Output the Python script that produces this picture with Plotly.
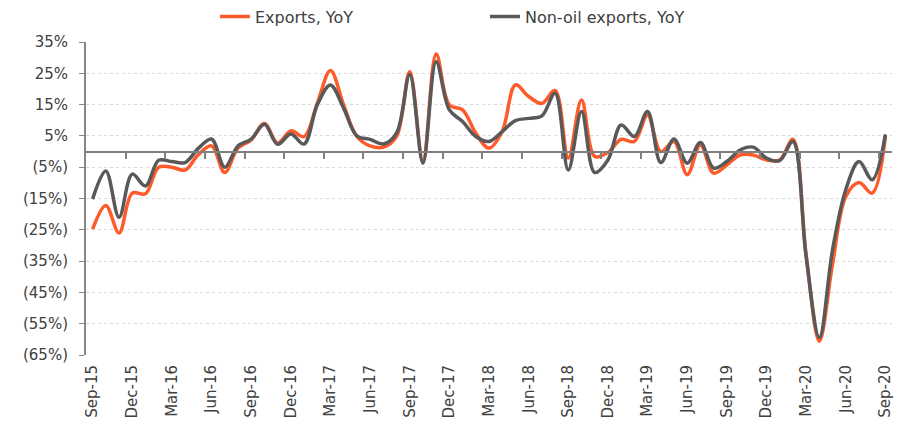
import plotly.graph_objects as go

months = ["Sep-15", "Oct-15", "Nov-15", "Dec-15", "Jan-16", "Feb-16", "Mar-16", "Apr-16", "May-16",
          "Jun-16", "Jul-16", "Aug-16", "Sep-16", "Oct-16", "Nov-16", "Dec-16", "Jan-17", "Feb-17",
          "Mar-17", "Apr-17", "May-17", "Jun-17", "Jul-17", "Aug-17", "Sep-17", "Oct-17", "Nov-17",
          "Dec-17", "Jan-18", "Feb-18", "Mar-18", "Apr-18", "May-18", "Jun-18", "Jul-18", "Aug-18",
          "Sep-18", "Oct-18", "Nov-18", "Dec-18", "Jan-19", "Feb-19", "Mar-19", "Apr-19", "May-19",
          "Jun-19", "Jul-19", "Aug-19", "Sep-19", "Oct-19", "Nov-19", "Dec-19", "Jan-20", "Feb-20",
          "Mar-20", "Apr-20", "May-20", "Jun-20", "Jul-20", "Aug-20", "Sep-20"]

exports_yoy = [-24.8, -17.2, -26.0, -13.3, -13.5, -5.0, -5.0, -5.9, -1.0, 1.8,
               -6.7, 1.1, 3.7, 9.0, 2.7, 6.6, 4.8, 15.4, 25.9, 14.9,
               4.8, 1.8, 1.4, 4.8, 25.5, -3.0, 31.2, 14.9, 13.3, 5.9,
               1.1, 6.4, 21.3, 17.6, 15.4, 19.5, -2.1, 16.5, -1.6, -0.3,
               3.9, 3.2, 11.7, 0.0, 3.2, -7.4, 2.1, -6.9, -4.3, -1.1,
               -1.1, -2.7, -2.7, 3.9, -33.0, -60.6, -36.0, -14.4, -9.9, -13.3,
               4.8]

non_oil_exports_yoy = [-15.2, -6.2, -21.0, -7.2, -11.0, -2.8, -3.2, -3.5, 1.0, 4.0,
                       -5.0, 1.8, 4.0, 8.7, 2.3, 5.6, 2.4, 14.9, 21.3, 13.8,
                       5.0, 3.9, 2.4, 5.9, 24.5, -3.7, 28.7, 13.3, 9.6, 4.8,
                       3.2, 6.4, 9.9, 10.6, 11.4, 18.6, -5.9, 12.8, -6.7, -2.7,
                       8.5, 4.8, 12.8, -3.5, 4.0, -3.7, 2.9, -5.3, -3.2, 0.5,
                       1.4, -2.1, -2.9, 3.2, -33.5, -59.4, -31.4, -12.2, -3.2, -9.0,
                       5.5]

y_tick_values = [35, 25, 15, 5, -5, -15, -25, -35, -45, -55, -65]
y_tick_labels = ["35%", "25%", "15%", "5%", "(5%)", "(15%)", "(25%)", "(35%)", "(45%)", "(55%)", "(65%)"]

x_idx = list(range(len(months)))
label_idx = x_idx[::3]
label_text = months[::3]
boundary_ticks = [i - 0.5 for i in x_idx[3::3]]

FONT = "DejaVu Sans"
TXT = "#404040"

fig = go.Figure()
# empty helper trace so the zero-crossing category axis (x) is rendered underneath the data
fig.add_trace(go.Scatter(x=[None], y=[None], xaxis="x", yaxis="y", showlegend=False,
                         hoverinfo="skip", mode="lines"))
fig.add_trace(go.Scatter(x=x_idx, y=exports_yoy, mode="lines", name="Exports, YoY", xaxis="x2",
                         line=dict(color="#FF5A2A", width=3.5, shape="spline", smoothing=1.0)))
fig.add_trace(go.Scatter(x=x_idx, y=non_oil_exports_yoy, mode="lines", name="Non-oil exports, YoY",
                         xaxis="x2",
                         line=dict(color="#595959", width=3.5, shape="spline", smoothing=1.0)))

fig.update_layout(
    width=909, height=439,
    margin=dict(l=86, r=17, t=42, b=84, autoexpand=False),
    plot_bgcolor="white", paper_bgcolor="white",
    font=dict(family=FONT, color=TXT, size=15),
    showlegend=True,
    legend=dict(orientation="h", x=0.16, xanchor="left", yref="container", y=0.962,
                yanchor="middle", traceorder="normal",
                font=dict(size=16, color=TXT), entrywidth=225, entrywidthmode="pixels",
                bgcolor="rgba(0,0,0,0)", tracegroupgap=0),
    # zero-crossing axis line with tick marks between quarters
    xaxis=dict(anchor="free", position=0.65,
               range=[-0.5, len(months) - 0.5], tickmode="array", tickvals=boundary_ticks,
               showticklabels=False, ticks="outside", ticklen=6, tickwidth=2, tickcolor="#7f7f7f",
               showline=True, linecolor="#7f7f7f", linewidth=2, showgrid=False, zeroline=False,
               automargin=False),
    # category labels at the bottom
    xaxis2=dict(overlaying="x", anchor="y", side="bottom",
                range=[-0.5, len(months) - 0.5], tickmode="array", tickvals=label_idx,
                ticktext=label_text, tickangle=-90, showgrid=False, zeroline=False,
                showline=False, ticks="", tickfont=dict(size=15, color=TXT), ticklabelstandoff=6,
                automargin=False),
    yaxis=dict(range=[-65, 35], tickmode="array", tickvals=y_tick_values, ticktext=y_tick_labels,
               showgrid=True, gridcolor="#d9d9d9", griddash="dot", gridwidth=1, zeroline=False,
               showline=True, linecolor="#868686", linewidth=2, ticks="outside", ticklen=5,
               tickcolor="#868686", tickwidth=1, tickfont=dict(size=15, color=TXT),
               ticklabelstandoff=8, automargin=False),
)

fig.write_html("out.html", config={"displayModeBar": False},
               post_script="document.body.style.margin='0';")
